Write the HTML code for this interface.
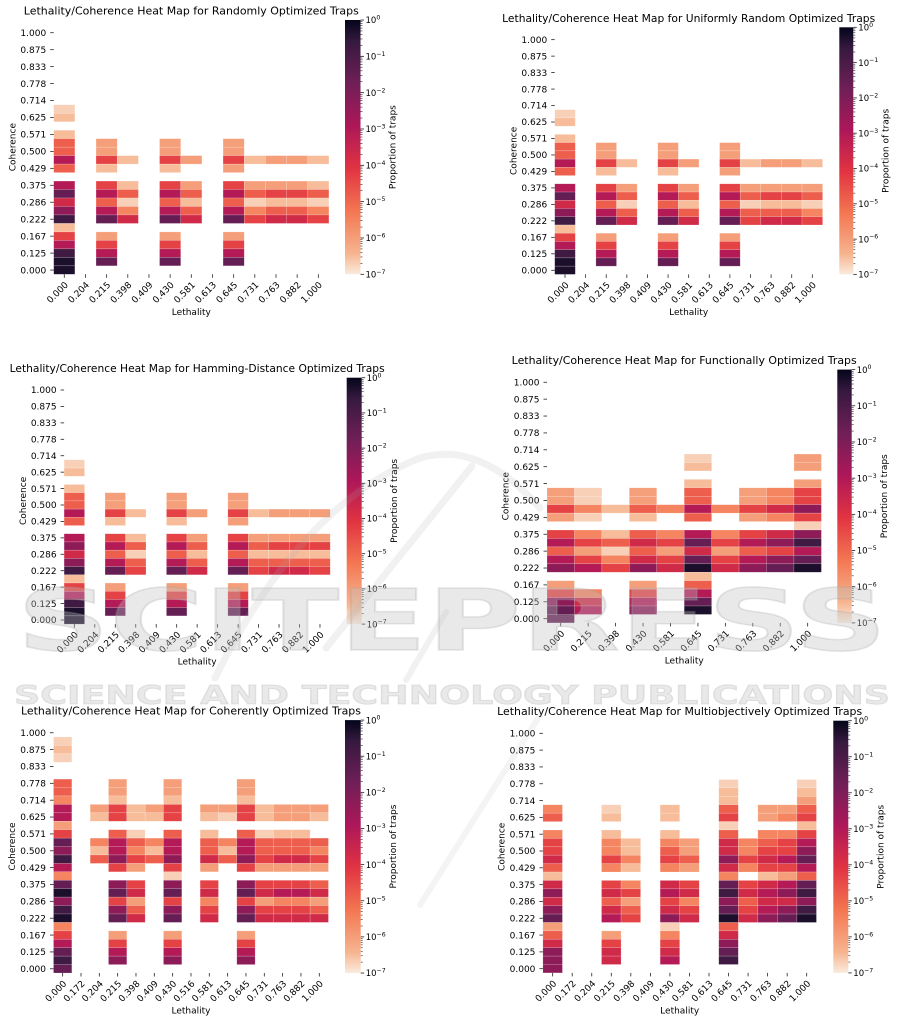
<!DOCTYPE html>
<html><head><meta charset="utf-8">
<style>
html,body{margin:0;padding:0;background:#fff;}
svg{display:block;font-family:"DejaVu Sans","Liberation Sans",sans-serif;}
text{fill:#000;font-size:9px;}
text.t{font-size:10.9px;}
.cl text{font-size:8.5px;}
.wm text{font-weight:bold;}
</style></head><body>
<svg id="s" width="901" height="1025" viewBox="0 0 901 1025">
<defs><linearGradient id="cg" x1="0" y1="0" x2="0" y2="1">
<stop offset="0" stop-color="#03051a"/><stop offset=".083" stop-color="#35193e"/><stop offset=".25" stop-color="#701f57"/><stop offset=".417" stop-color="#ad1759"/><stop offset=".583" stop-color="#e13342"/><stop offset=".75" stop-color="#f37651"/><stop offset=".917" stop-color="#f6b48f"/><stop offset="1" stop-color="#faebdd"/>
</linearGradient></defs>
<rect width="901" height="1025" fill="#fff"/>

<g id="p1">
<text class="t">Lethality/Coherence Heat Map for Randomly Optimized Traps</text>
<text class="xa">Lethality</text><text class="ya">Coherence</text><text class="ca">Proportion of traps</text>
<g class="yl"><text>1.000</text><text>0.875</text><text>0.833</text><text>0.778</text><text>0.714</text><text>0.625</text><text>0.571</text><text>0.500</text><text>0.429</text><text>0.375</text><text>0.286</text><text>0.222</text><text>0.167</text><text>0.125</text><text>0.000</text></g>
<g class="xl"><text>0.000</text><text>0.204</text><text>0.215</text><text>0.398</text><text>0.409</text><text>0.430</text><text>0.581</text><text>0.613</text><text>0.645</text><text>0.731</text><text>0.763</text><text>0.882</text><text>1.000</text></g>
<g class="cl"><text>10<tspan dy="-3.6" font-size="6.2">0</tspan></text><text>10<tspan dy="-3.6" font-size="6.2">−1</tspan></text><text>10<tspan dy="-3.6" font-size="6.2">−2</tspan></text><text>10<tspan dy="-3.6" font-size="6.2">−3</tspan></text><text>10<tspan dy="-3.6" font-size="6.2">−4</tspan></text><text>10<tspan dy="-3.6" font-size="6.2">−5</tspan></text><text>10<tspan dy="-3.6" font-size="6.2">−6</tspan></text><text>10<tspan dy="-3.6" font-size="6.2">−7</tspan></text></g>
</g>

<g id="p2">
<text class="t">Lethality/Coherence Heat Map for Uniformly Random Optimized Traps</text>
<text class="xa">Lethality</text><text class="ya">Coherence</text><text class="ca">Proportion of traps</text>
<g class="yl"><text>1.000</text><text>0.875</text><text>0.833</text><text>0.778</text><text>0.714</text><text>0.625</text><text>0.571</text><text>0.500</text><text>0.429</text><text>0.375</text><text>0.286</text><text>0.222</text><text>0.167</text><text>0.125</text><text>0.000</text></g>
<g class="xl"><text>0.000</text><text>0.204</text><text>0.215</text><text>0.398</text><text>0.409</text><text>0.430</text><text>0.581</text><text>0.613</text><text>0.645</text><text>0.731</text><text>0.763</text><text>0.882</text><text>1.000</text></g>
<g class="cl"><text>10<tspan dy="-3.6" font-size="6.2">0</tspan></text><text>10<tspan dy="-3.6" font-size="6.2">−1</tspan></text><text>10<tspan dy="-3.6" font-size="6.2">−2</tspan></text><text>10<tspan dy="-3.6" font-size="6.2">−3</tspan></text><text>10<tspan dy="-3.6" font-size="6.2">−4</tspan></text><text>10<tspan dy="-3.6" font-size="6.2">−5</tspan></text><text>10<tspan dy="-3.6" font-size="6.2">−6</tspan></text><text>10<tspan dy="-3.6" font-size="6.2">−7</tspan></text></g>
</g>

<g id="p3">
<text class="t">Lethality/Coherence Heat Map for Hamming-Distance Optimized Traps</text>
<text class="xa">Lethality</text><text class="ya">Coherence</text><text class="ca">Proportion of traps</text>
<g class="yl"><text>1.000</text><text>0.875</text><text>0.833</text><text>0.778</text><text>0.714</text><text>0.625</text><text>0.571</text><text>0.500</text><text>0.429</text><text>0.375</text><text>0.286</text><text>0.222</text><text>0.167</text><text>0.125</text><text>0.000</text></g>
<g class="xl"><text>0.000</text><text>0.204</text><text>0.215</text><text>0.398</text><text>0.409</text><text>0.430</text><text>0.581</text><text>0.613</text><text>0.645</text><text>0.731</text><text>0.763</text><text>0.882</text><text>1.000</text></g>
<g class="cl"><text>10<tspan dy="-3.6" font-size="6.2">0</tspan></text><text>10<tspan dy="-3.6" font-size="6.2">−1</tspan></text><text>10<tspan dy="-3.6" font-size="6.2">−2</tspan></text><text>10<tspan dy="-3.6" font-size="6.2">−3</tspan></text><text>10<tspan dy="-3.6" font-size="6.2">−4</tspan></text><text>10<tspan dy="-3.6" font-size="6.2">−5</tspan></text><text>10<tspan dy="-3.6" font-size="6.2">−6</tspan></text><text>10<tspan dy="-3.6" font-size="6.2">−7</tspan></text></g>
</g>

<g id="p4">
<text class="t">Lethality/Coherence Heat Map for Functionally Optimized Traps</text>
<text class="xa">Lethality</text><text class="ya">Coherence</text><text class="ca">Proportion of traps</text>
<g class="yl"><text>1.000</text><text>0.875</text><text>0.833</text><text>0.778</text><text>0.714</text><text>0.625</text><text>0.571</text><text>0.500</text><text>0.429</text><text>0.375</text><text>0.286</text><text>0.222</text><text>0.167</text><text>0.125</text><text>0.000</text></g>
<g class="xl"><text>0.000</text><text>0.215</text><text>0.398</text><text>0.430</text><text>0.581</text><text>0.645</text><text>0.731</text><text>0.763</text><text>0.882</text><text>1.000</text></g>
<g class="cl"><text>10<tspan dy="-3.6" font-size="6.2">0</tspan></text><text>10<tspan dy="-3.6" font-size="6.2">−1</tspan></text><text>10<tspan dy="-3.6" font-size="6.2">−2</tspan></text><text>10<tspan dy="-3.6" font-size="6.2">−3</tspan></text><text>10<tspan dy="-3.6" font-size="6.2">−4</tspan></text><text>10<tspan dy="-3.6" font-size="6.2">−5</tspan></text><text>10<tspan dy="-3.6" font-size="6.2">−6</tspan></text><text>10<tspan dy="-3.6" font-size="6.2">−7</tspan></text></g>
</g>

<g id="p5">
<text class="t">Lethality/Coherence Heat Map for Coherently Optimized Traps</text>
<text class="xa">Lethality</text><text class="ya">Coherence</text><text class="ca">Proportion of traps</text>
<g class="yl"><text>1.000</text><text>0.875</text><text>0.833</text><text>0.778</text><text>0.714</text><text>0.625</text><text>0.571</text><text>0.500</text><text>0.429</text><text>0.375</text><text>0.286</text><text>0.222</text><text>0.167</text><text>0.125</text><text>0.000</text></g>
<g class="xl"><text>0.000</text><text>0.172</text><text>0.204</text><text>0.215</text><text>0.398</text><text>0.409</text><text>0.430</text><text>0.516</text><text>0.581</text><text>0.613</text><text>0.645</text><text>0.731</text><text>0.763</text><text>0.882</text><text>1.000</text></g>
<g class="cl"><text>10<tspan dy="-3.6" font-size="6.2">0</tspan></text><text>10<tspan dy="-3.6" font-size="6.2">−1</tspan></text><text>10<tspan dy="-3.6" font-size="6.2">−2</tspan></text><text>10<tspan dy="-3.6" font-size="6.2">−3</tspan></text><text>10<tspan dy="-3.6" font-size="6.2">−4</tspan></text><text>10<tspan dy="-3.6" font-size="6.2">−5</tspan></text><text>10<tspan dy="-3.6" font-size="6.2">−6</tspan></text><text>10<tspan dy="-3.6" font-size="6.2">−7</tspan></text></g>
</g>

<g id="p6">
<text class="t">Lethality/Coherence Heat Map for Multiobjectively Optimized Traps</text>
<text class="xa">Lethality</text><text class="ya">Coherence</text><text class="ca">Proportion of traps</text>
<g class="yl"><text>1.000</text><text>0.875</text><text>0.833</text><text>0.778</text><text>0.714</text><text>0.625</text><text>0.571</text><text>0.500</text><text>0.429</text><text>0.375</text><text>0.286</text><text>0.222</text><text>0.167</text><text>0.125</text><text>0.000</text></g>
<g class="xl"><text>0.000</text><text>0.172</text><text>0.204</text><text>0.215</text><text>0.398</text><text>0.409</text><text>0.430</text><text>0.581</text><text>0.613</text><text>0.645</text><text>0.731</text><text>0.763</text><text>0.882</text><text>1.000</text></g>
<g class="cl"><text>10<tspan dy="-3.6" font-size="6.2">0</tspan></text><text>10<tspan dy="-3.6" font-size="6.2">−1</tspan></text><text>10<tspan dy="-3.6" font-size="6.2">−2</tspan></text><text>10<tspan dy="-3.6" font-size="6.2">−3</tspan></text><text>10<tspan dy="-3.6" font-size="6.2">−4</tspan></text><text>10<tspan dy="-3.6" font-size="6.2">−5</tspan></text><text>10<tspan dy="-3.6" font-size="6.2">−6</tspan></text><text>10<tspan dy="-3.6" font-size="6.2">−7</tspan></text></g>
</g>

<g class="wm">
<path d="M 215 678 Q 300 505 420 458 Q 480 440 540 508" fill="none" stroke="#a8a8a8" stroke-opacity="0.16" stroke-width="7" stroke-linecap="round"/>
<path d="M 472 466 L 326 648" fill="none" stroke="#a8a8a8" stroke-opacity="0.16" stroke-width="7" stroke-linecap="round"/>
<path d="M 446 612 L 406 680" fill="none" stroke="#a8a8a8" stroke-opacity="0.16" stroke-width="6" stroke-linecap="round"/>
<path d="M 540 715 L 420 905" fill="none" stroke="#a8a8a8" stroke-opacity="0.13" stroke-width="6" stroke-linecap="round"/>
<text x="17" y="650" style="font-size:85px;fill:#c0c0c0;fill-opacity:0.35;stroke:#a0a0a0;stroke-opacity:0.25;stroke-width:1.5px" textLength="870" lengthAdjust="spacingAndGlyphs">SCITEPRESS</text>
<text x="14" y="704" style="font-size:26px;fill:#c0c0c0;fill-opacity:0.35;stroke:#a0a0a0;stroke-opacity:0.25;stroke-width:1px" textLength="876" lengthAdjust="spacingAndGlyphs">SCIENCE AND TECHNOLOGY PUBLICATIONS</text>
</g>
</svg>
<script>
(function(){
var svg=document.getElementById('s'),NS=svg.namespaceURI;
function el(p,tag,a){var e=document.createElementNS(NS,tag);for(var k in a)e.setAttribute(k,a[k]);p.appendChild(e);return e;}
function sa(e,a){for(var k in a)e.setAttribute(k,a[k]);}
var ST=[[0,[3,5,26]],[.083,[53,25,62]],[.25,[112,31,87]],[.417,[173,23,89]],[.583,[225,51,66]],[.75,[243,118,81]],[.917,[246,180,143]],[1,[250,235,221]]];
function rk(p){for(var i=1;i<ST.length;i++){if(p<=ST[i][0]){var a=ST[i-1],b=ST[i],t=(p-a[0])/(b[0]-a[0]);return 'rgb('+a[1].map(function(v,j){return Math.round(v+(b[1][j]-v)*t)}).join(',')+')';}}return 'rgb(250,235,221)';}
var LV={'9':.96,'8':.93,'7':.86,'6':.79,'5':.69,'4':.62,'3':.53,'2':.44,'1':.33,'0':.22,'x':.11,'z':.04};
var P=[
{id:'p1',T:20,B:274.3,L:53.7,w:21.17,n:13,cx:345,cw:15.5,tw:335,d:{9:'9',10:'8',12:'8',13:'5.7..7..7',14:'5.7..7..7',15:'2.48.47.48778',16:'5.8..8..7',18:'2.48.47.47778',19:'0.25.25.25445',20:'3.59.58.59889',21:'1.26.25.26556',22:'x.03.03.04334',23:'8',24:'4.7..7..7',25:'2.4..4..4',26:'x.2..2..2',27:'z.0..0..0',28:'z'}},
{id:'p2',T:27.3,B:274.4,L:554.7,w:20.61,n:13,cx:839.3,cw:14,tw:373,d:{9:'9',10:'8',12:'8',13:'5.7..7..7',14:'5.7..7..7',15:'2.48.47.48778',16:'5.8..8..7',18:'2.47.47.47777',19:'0.25.25.25445',20:'3.59.58.59889',21:'1.25.25.25556',22:'x.03.03.04334',23:'8',24:'4.7..7..7',25:'2.4..4..4',26:'x.2..2..2',27:'z.0..0..0',28:'z'}},
{id:'p3',T:377.7,B:624.1,L:64.1,w:20.47,n:13,cx:346.7,cw:15,tw:375,d:{9:'9',10:'8',12:'8',13:'5.7..7..7',14:'5.7..7..7',15:'2.48.47.48777',16:'5.8..8..7',18:'2.48.47.47777',19:'1.25.25.25444',20:'3.59.58.58888',21:'1.25.25.25555',22:'x.04.03.04334',23:'8',24:'4.7..7..7',25:'2.4..4..4',26:'x.2..2..2',27:'z.0..0..0',28:'z'}},
{id:'p4',T:369.6,B:622.9,L:547,w:27.44,n:10,cx:837.3,cw:14.4,tw:345,d:{9:'.....9...7',10:'.....8...7',12:'.....8...7',13:'79.7.5.764',14:'79.7.5.764',15:'4685626431',16:'79.8.5.764',17:'.........9',18:'4685626431',19:'245340421x',20:'5795737542',21:'2463404210',22:'12413z310z',23:'.....8',24:'7..7.5',25:'46.4.2',26:'13.2.0',27:'02.1.z',28:'0'}},
{id:'p5',T:720.1,B:973,L:53.5,w:18.33,n:15,cx:345,cw:15.7,tw:340,d:{1:'9',2:'8',3:'9',6:'5..7..7...7',7:'5..7..7...7',8:'6..8..8...8',9:'2.74874.7748777',10:'2.84884.8948778',11:'7',12:'4..59.5.8.5988',13:'0.62562.5625555',14:'1.82682.5825556',15:'x.51451.3514334',16:'2..47.4.7.47777',17:'6.....9',18:'0..14.1.4.14445',19:'z..03.0.3.03223',20:'1..47.4.6.47667',21:'x..15.1.4.14445',22:'z..03.0.3.03333',23:'6',24:'4..7..7...7',25:'2..4..4...4',26:'0..2..2...2',27:'x..1..1...1',28:'0'}},
{id:'p6',T:720.7,B:972.9,L:542.9,w:19.54,n:14,cx:833.3,cw:15,tw:365,d:{6:'.........9...9',7:'.........8...8',8:'.........8...7',9:'6..9..8..5.775',10:'5..8..8..4.764',11:'.........9...8',12:'6..8..8..5.664',13:'4..68.67.36542',14:'4..68.57.36441',15:'3..46.45.14320',16:'5..68.67.36442',17:'8........6.875',18:'3..46.34.04320',19:'1..34.23.x321x',20:'3..57.46.15331',21:'1..35.34.0421x',22:'0..24.13.z310z',23:'7.....9..5',24:'5..7..6..3',25:'3..4..4..1',26:'1..3..3..0',27:'1..3..2..x',28:'1'}}
];
P.forEach(function(p){
 var g=document.getElementById(p.id),h=(p.B-p.T)/30,W=p.n*p.w,cm=p.L+W/2,ym=(p.T+p.B)/2;
 var cg=document.createElementNS(NS,'g');g.insertBefore(cg,g.firstChild);
 for(var r in p.d){var row=p.d[r];for(var c=0;c<row.length;c++){var ch=row.charAt(c);if(!(ch in LV))continue;
  el(cg,'rect',{x:(p.L+c*p.w).toFixed(2),y:(p.T+(+r+1)*h).toFixed(2),width:p.w.toFixed(2),height:h.toFixed(2),fill:rk(LV[ch]),stroke:'#fff','stroke-opacity':.35,'stroke-width':.5});}}
 var tk=document.createElementNS(NS,'g');sa(tk,{stroke:'#222','stroke-width':.8});g.appendChild(tk);
 sa(g.querySelector('.t'),{x:cm,y:p.T-5.5,'text-anchor':'middle',textLength:p.tw,lengthAdjust:'spacingAndGlyphs'});
 sa(g.querySelector('.xa'),{x:cm,y:p.B+40.5,'text-anchor':'middle'});
 sa(g.querySelector('.ya'),{transform:'translate('+(p.L-41.5)+','+ym+') rotate(-90)',y:3.2,'text-anchor':'middle'});
 sa(g.querySelector('.ca'),{transform:'translate('+(p.cx+p.cw+32)+','+ym+') rotate(-90)',y:3.2,'text-anchor':'middle'});
 Array.prototype.forEach.call(g.querySelectorAll('.yl text'),function(t,k){var y=p.T+(2*k+1.5)*h;sa(t,{x:p.L-7.5,y:y+3.2,'text-anchor':'end'});el(tk,'line',{x1:p.L-3.5,x2:p.L,y1:y,y2:y});});
 Array.prototype.forEach.call(g.querySelectorAll('.xl text'),function(t,i){var x=p.L+(i+.5)*p.w;sa(t,{transform:'translate('+(x-7)+','+(p.B+18)+') rotate(-45)',y:3.2,'text-anchor':'middle'});el(tk,'line',{x1:x,x2:x,y1:p.B,y2:p.B+3.5});});
 el(g,'rect',{x:p.cx,y:p.T,width:p.cw,height:p.B-p.T,fill:'url(#cg)'});
 var D=(p.B-p.T)/7,xr=p.cx+p.cw;
 Array.prototype.forEach.call(g.querySelectorAll('.cl text'),function(t,k){var y=p.T+k*D;sa(t,{x:xr+5,y:y+3.2});el(tk,'line',{x1:xr,x2:xr+3.5,y1:y,y2:y});
  if(k<7){for(var m=2;m<10;m++){var yy=p.T+(k+1)*D-Math.log(m)/Math.LN10*D;el(tk,'line',{x1:xr,x2:xr+2,y1:yy,y2:yy,'stroke-width':.6});}}});
});
})();
</script>
</body></html>
